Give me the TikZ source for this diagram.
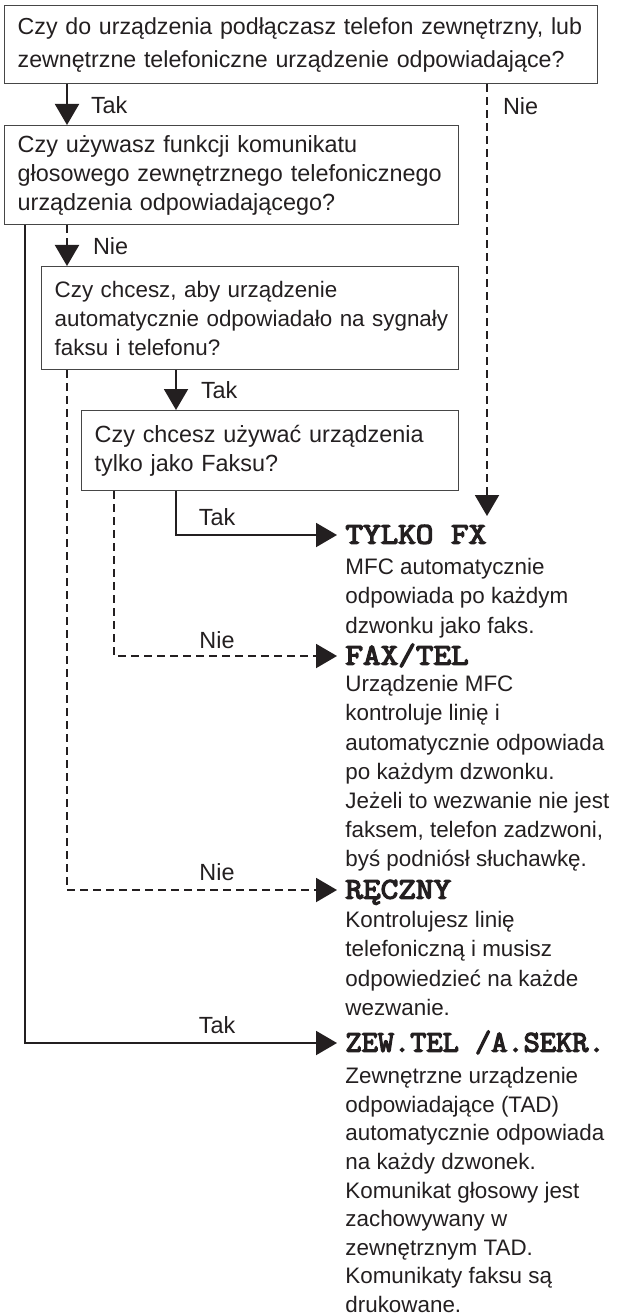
\documentclass[tikz,border=0pt]{standalone}
\usepackage{fontspec}
\setmainfont{Liberation Sans}
\newfontfamily\headfont{Latin Modern Mono}[FakeBold=4.5, FakeStretch=1.14]
\usetikzlibrary{arrows.meta}

\definecolor{ink}{RGB}{35,31,32}
\definecolor{cadre}{RGB}{70,70,70}
\newcommand{\qfont}{\fontsize{11.7}{14.5}\selectfont}
\newcommand{\dfont}{\fontsize{11.2}{14.6}\selectfont}

\tikzset{
  question/.style={draw=cadre, line width=0.7pt, anchor=north west, align=left,
    inner xsep=6.5pt, inner ysep=0pt, font=\qfont, text=ink},
  mode/.style={anchor=west, inner sep=0pt, text height=8.6pt, text depth=0pt,
    font=\headfont\fontsize{15}{15}\selectfont, text=ink},
  modetext/.style={anchor=north west, inner sep=0pt, align=left, font=\dfont, text=ink},
  lbl/.style={inner sep=0pt, font=\qfont, text=ink},
  takline/.style={draw=ink, line width=1pt, -{Triangle[length=10.5pt,width=12pt]}},
  nieline/.style={takline, dash pattern=on 4pt off 2.5pt},
}

\begin{document}
\begin{tikzpicture}[x=0.5pt, y=-0.5pt]
        \useasboundingbox (0,0) rectangle (625,1316);

        % Pytania
        \node[question, text width=283.5pt, minimum height=39pt, font=\fontsize{11.6}{16.5}\selectfont] (q1) at (4,5)
            {\mbox{Czy do urządzenia podłączasz telefon zewnętrzny, lub}\\zewnętrzne telefoniczne urządzenie odpowiadające?};
        \node[question, text width=214pt, minimum height=49.5pt] (q2) at (4,125)
            {Czy używasz funkcji komunikatu\\\mbox{głosowego zewnętrznego telefonicznego}\\urządzenia odpowiadającego?};
        \node[question, text width=195.5pt, minimum height=51.5pt, font=\fontsize{11.2}{14.5}\selectfont] (q3) at (41,266)
            {Czy chcesz, aby urządzenie\\\mbox{automatycznie odpowiadało na sygnały}\\faksu i telefonu?};
        \node[question, text width=175.5pt, minimum height=40pt] (q4) at (81,410)
            {Czy chcesz używać urządzenia\\tylko jako Faksu?};

        % Tryby
        \node[mode] (fx) at (345,535) {TYLKO FX};
        \node[mode] (faxtel) at (345,656) {FAX/TEL};
        \node[mode] (manual) at (345,890) {RĘCZNY};
        \node[mode] (tad) at (345,1043) {\scalebox{0.92}[1]{ZEW.TEL /A.SEKR.}};

        % Opisy
        \node[modetext] (fxtxt) at (345,558)
            {MFC automatycznie\\odpowiada po każdym\\dzwonku jako faks.};
        \node[modetext] (faxteltxt) at (345,675)
            {Urządzenie MFC\\kontroluje linię i\\automatycznie odpowiada\\po każdym dzwonku.\\Jeżeli to wezwanie nie jest\\faksem, telefon zadzwoni,\\byś podniósł słuchawkę.};
        \node[modetext] (manualtxt) at (345,911)
            {Kontrolujesz linię\\telefoniczną i musisz\\odpowiedzieć na każde\\wezwanie.};
        \node[modetext, font=\fontsize{11.2}{14.3}\selectfont] (tadtxt) at (345,1067)
            {Zewnętrzne urządzenie\\odpowiadające (TAD)\\automatycznie odpowiada\\na każdy dzwonek.\\Komunikat głosowy jest\\zachowywany w\\zewnętrznym TAD.\\Komunikaty faksu są\\drukowane.};

        % Tory linii
        \coordinate (laneA) at (25,0);
        \coordinate (laneB) at (67,0);
        \coordinate (laneC) at (114,0);
        \coordinate (laneD) at (176,0);
        \coordinate (laneE) at (487,0);

        % Strzałki
        \draw[takline] (q1.south -| laneB) -- node[lbl, right=11.5pt] (t1) {Tak} (q2.north -| laneB);
        \draw[nieline, shorten >=5pt] (q1.south -| laneE) -- node[lbl, pos=0.05, right=7.5pt] (n1) {Nie} (fx.north -| laneE);
        \draw[nieline] (q2.south -| laneB) -- node[lbl, right=12.5pt] (n2) {Nie} (q3.north -| laneB);
        \draw[takline] (q3.south -| laneD) -- node[lbl, right=12pt] (t2) {Tak} (q4.north -| laneD);
        \draw[takline, shorten >=4pt] (q4.south -| laneD) |- (fx.west);
        \draw[nieline, shorten >=4pt] (q4.south -| laneC) |- (faxtel.west);
        \draw[nieline, shorten >=4pt] (q3.south -| laneB) |- (manual.west);
        \draw[takline, shorten >=4pt] (q2.south -| laneA) |- (tad.west);

        % Etykiety
        \foreach \y/\txt/\nm in {517/Tak/t3, 640/Nie/n3, 872/Nie/n4, 1025/Tak/t4}
            \node[lbl] (\nm) at (217,\y) {\txt};
\end{tikzpicture}
\end{document}
